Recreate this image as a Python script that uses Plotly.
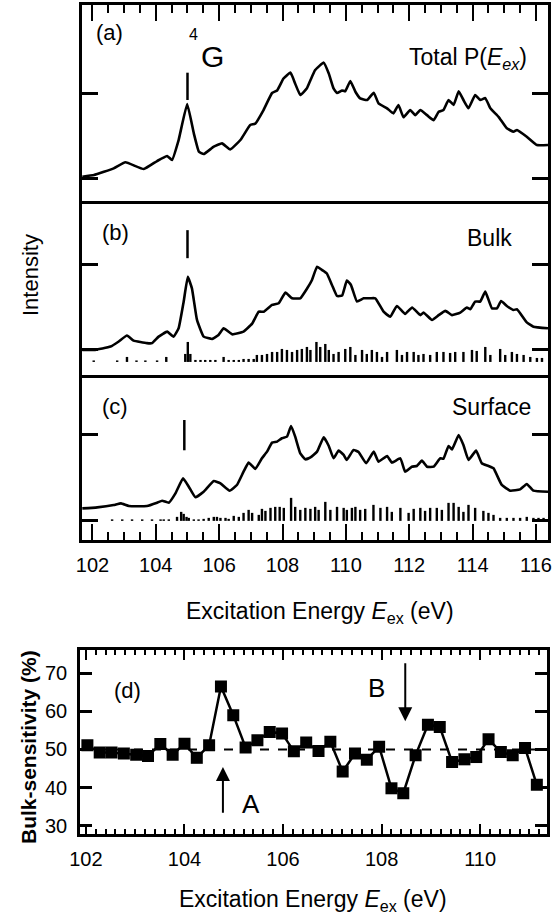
import plotly.graph_objects as go

W, H = 553, 921

# ---------------- data ----------------
# (a) Total P(Eex)
A_E = [101.68, 102.05, 102.67, 103.04, 103.62, 104.04, 104.36, 104.51, 104.72, 104.99, 105.2, 105.36, 105.51,
       105.83, 106.09, 106.35, 106.67, 106.98, 107.14, 107.4, 107.67, 107.83, 108.03, 108.25, 108.4, 108.56,
       108.77, 108.88, 109.03, 109.3, 109.46, 109.61, 109.72, 109.88, 109.98, 110.14, 110.3, 110.45, 110.67,
       110.88, 111.03, 111.3, 111.5, 111.66, 111.82, 112.03, 112.19, 112.35, 112.56, 112.77, 112.93, 113.08,
       113.24, 113.4, 113.56, 113.71, 113.87, 114.08, 114.24, 114.4, 114.56, 114.82, 115.08, 115.29, 115.4,
       115.71, 116.03, 116.38]
A_I = [0.016, 0.035, 0.114, 0.185, 0.106, 0.2, 0.259, 0.212, 0.447, 0.871, 0.525, 0.31, 0.282, 0.369, 0.408,
       0.337, 0.447, 0.624, 0.64, 0.8, 1.0, 1.03, 1.17, 1.24, 1.11, 0.976, 1.055, 1.15, 1.27, 1.357, 1.23, 1.055,
       1.0, 1.03, 1.02, 1.14, 1.015, 0.937, 0.918, 1.004, 0.878, 0.82, 0.76, 0.859, 0.714, 0.8, 0.74, 0.8, 0.74,
       0.68, 0.78, 0.8, 0.918, 0.86, 1.02, 0.918, 0.82, 0.976, 0.918, 0.94, 0.82, 0.72, 0.585, 0.545, 0.565,
       0.486, 0.388, 0.388]

# (b) Bulk
B_E = [101.68, 102.05, 102.57, 102.83, 103.09, 103.3, 103.72, 103.88, 104.09, 104.36, 104.56, 104.72, 104.88,
       105.01, 105.14, 105.3, 105.51, 105.78, 105.98, 106.14, 106.41, 106.77, 107.04, 107.25, 107.41, 107.67,
       107.88, 108.09, 108.3, 108.56, 108.77, 108.93, 109.09, 109.25, 109.4, 109.56, 109.72, 109.88, 110.03,
       110.16, 110.35, 110.56, 110.77, 110.93, 111.19, 111.4, 111.61, 111.87, 112.09, 112.35, 112.45, 112.72,
       112.93, 113.14, 113.35, 113.61, 113.82, 113.93, 114.08, 114.24, 114.4, 114.61, 114.77, 114.9, 115.08,
       115.29, 115.4, 115.71, 115.92, 116.38]
B_I = [0.0, 0.0, 0.04, 0.1, 0.17, 0.11, 0.08, 0.08, 0.157, 0.216, 0.157, 0.255, 0.57, 0.86, 0.725, 0.353, 0.157,
       0.13, 0.176, 0.255, 0.184, 0.216, 0.31, 0.45, 0.45, 0.53, 0.55, 0.675, 0.608, 0.608, 0.72, 0.824, 0.98,
       0.94, 0.9, 0.765, 0.635, 0.64, 0.816, 0.765, 0.57, 0.608, 0.608, 0.608, 0.45, 0.39, 0.518, 0.424, 0.5,
       0.41, 0.44, 0.353, 0.41, 0.46, 0.41, 0.44, 0.5, 0.48, 0.57, 0.57, 0.686, 0.49, 0.49, 0.576, 0.518, 0.47,
       0.48, 0.325, 0.274, 0.255]

# (c) Surface
C_E = [101.68, 102.15, 102.67, 102.9, 103.15, 103.72, 104.04, 104.2, 104.41, 104.62, 104.86, 105.04, 105.25,
       105.51, 105.83, 106.04, 106.33, 106.56, 106.77, 106.93, 107.14, 107.35, 107.51, 107.67, 107.83, 107.98,
       108.14, 108.27, 108.4, 108.56, 108.72, 108.88, 109.09, 109.3, 109.46, 109.61, 109.77, 109.93, 110.03,
       110.24, 110.4, 110.64, 110.88, 111.03, 111.3, 111.45, 111.72, 111.87, 112.08, 112.24, 112.4, 112.56,
       112.77, 112.98, 113.08, 113.24, 113.35, 113.56, 113.71, 113.87, 114.11, 114.29, 114.5, 114.66, 114.92,
       115.19, 115.5, 115.71, 115.92, 116.38]
C_I = [0.137, 0.149, 0.176, 0.196, 0.165, 0.165, 0.204, 0.227, 0.204, 0.314, 0.49, 0.392, 0.267, 0.333, 0.459,
       0.431, 0.345, 0.412, 0.569, 0.675, 0.6, 0.726, 0.804, 0.91, 0.922, 0.961, 0.98, 1.106, 0.98, 0.784, 0.714,
       0.737, 0.804, 0.973, 0.871, 0.726, 0.816, 0.765, 0.706, 0.824, 0.8, 0.667, 0.804, 0.686, 0.753, 0.675,
       0.725, 0.569, 0.627, 0.635, 0.698, 0.627, 0.627, 0.726, 0.72, 0.871, 0.83, 1.0, 0.882, 0.706, 0.816,
       0.667, 0.635, 0.608, 0.412, 0.345, 0.36, 0.424, 0.345, 0.333]

# stick spectra (relative intensities)
SB_E = [102.04, 102.78, 103.09, 103.39, 103.67, 104.04, 104.33, 104.93, 105.01, 105.09, 105.25, 105.41, 105.56,
        105.72, 105.88, 106.14, 106.3, 106.46, 106.62, 106.77, 106.93, 107.09, 107.19, 107.35, 107.51, 107.67,
        107.83, 107.98, 108.14, 108.3, 108.46, 108.61, 108.77, 108.88, 109.07, 109.19, 109.35, 109.46, 109.61,
        109.77, 109.98, 110.14, 110.3, 110.51, 110.66, 110.82, 110.98, 111.14, 111.3, 111.61, 111.77, 111.93,
        112.14, 112.29, 112.45, 112.66, 112.87, 113.08, 113.29, 113.45, 113.71, 113.98, 114.13, 114.4, 114.56,
        114.87, 115.03, 115.24, 115.4, 115.61, 115.82, 116.03, 116.19]
SB_H = [1.5, 1.5, 5, 1.5, 1.5, 1.5, 5, 8, 20, 8, 2, 2, 2, 2, 2, 5, 2, 2, 2, 3, 3, 3, 7, 7, 8, 10, 10, 13, 12, 10,
        12, 13, 15, 12, 20, 15, 18, 12, 8, 10, 13, 15, 7, 12, 8, 12, 10, 5, 10, 12, 7, 10, 10, 7, 8, 7, 10, 10, 9,
        10, 10, 12, 11, 15, 7, 13, 7, 10, 8, 7, 5, 4, 4]
SC_E = [102.62, 102.94, 103.25, 103.57, 103.88, 104.15, 104.25, 104.41, 104.67, 104.8, 104.88, 104.97, 105.04,
        105.2, 105.35, 105.51, 105.67, 105.83, 105.93, 106.04, 106.2, 106.3, 106.46, 106.62, 106.77, 106.93,
        107.04, 107.25, 107.35, 107.46, 107.62, 107.77, 107.91, 108.04, 108.27, 108.4, 108.56, 108.72, 108.88,
        109.03, 109.14, 109.35, 109.51, 109.72, 109.93, 110.03, 110.19, 110.3, 110.45, 110.61, 110.87, 111.09,
        111.3, 111.45, 111.72, 111.98, 112.14, 112.35, 112.5, 112.66, 112.87, 113.03, 113.24, 113.4, 113.56,
        113.71, 113.87, 114.08, 114.34, 114.5, 114.66, 114.87, 115.08, 115.29, 115.5, 115.71, 115.92, 116.08,
        116.24]
SC_H = [1.5, 1.5, 1.5, 1.5, 1.5, 1.5, 1.5, 1.5, 4, 9, 7, 4, 3, 1.5, 1.5, 2, 3, 4, 4, 3, 3, 2, 5, 4, 8, 11, 8, 6,
        12, 10, 13, 14, 14, 13, 23, 14, 11, 13, 12, 14, 11, 19, 11, 14, 13, 11, 13, 14, 11, 12, 16, 13, 14, 9, 13,
        8, 12, 13, 10, 13, 13, 11, 18, 18, 14, 9, 16, 13, 10, 8, 6, 3, 3, 3, 3, 4, 3, 3, 3]

# (d) bulk sensitivity
D_E = [102.03, 102.28, 102.52, 102.77, 103.02, 103.26, 103.51, 103.76, 104.00, 104.25, 104.50, 104.74, 104.99,
       105.24, 105.48, 105.73, 105.98, 106.22, 106.47, 106.72, 106.96, 107.21, 107.46, 107.70, 107.95, 108.20,
       108.44, 108.69, 108.94, 109.18, 109.43, 109.68, 109.92, 110.17, 110.42, 110.66, 110.91, 111.15]
D_S = [51.1, 49.2, 49.2, 48.9, 48.6, 48.3, 51.4, 48.6, 51.5, 47.8, 51.1, 66.5, 59.0, 50.5, 52.4, 54.6, 54.2, 49.5,
       51.8, 49.6, 52.0, 44.2, 48.9, 47.3, 50.7, 39.8, 38.5, 48.5, 56.5, 55.9, 46.7, 47.4, 48.0, 52.7, 49.3, 48.5,
       50.4, 40.7]

STICK_SCALE = 1 / 85.0
FONT = "Liberation Sans, Arial, sans-serif"


def px(x):
    return x / W


def py(y):
    return 1 - y / H


def sticks(E, Hs, base):
    xs, ys = [], []
    for e, h in zip(E, Hs):
        xs += [e, e, None]
        ys += [base, base + h * STICK_SCALE, None]
    return xs, ys


fig = go.Figure()
line = dict(color="black", width=2.6, shape="spline", smoothing=0.35)
fig.add_trace(go.Scatter(x=A_E, y=A_I, mode="lines", line=line, xaxis="x3", yaxis="y"))
fig.add_trace(go.Scatter(x=B_E, y=B_I, mode="lines", line=line, xaxis="x2", yaxis="y2"))
fig.add_trace(go.Scatter(x=C_E, y=C_I, mode="lines", line=line, xaxis="x", yaxis="y3"))
sx, sy = sticks(SB_E, SB_H, -0.141)
fig.add_trace(go.Scatter(x=sx, y=sy, mode="lines", line=dict(color="black", width=2.4), xaxis="x2", yaxis="y2"))
sx, sy = sticks(SC_E, SC_H, -0.01)
fig.add_trace(go.Scatter(x=sx, y=sy, mode="lines", line=dict(color="black", width=2.4), xaxis="x", yaxis="y3"))

fig.add_trace(go.Scatter(x=D_E, y=D_S, mode="lines+markers", line=dict(color="black", width=2.5),
                         marker=dict(symbol="square", size=12, color="black"), xaxis="x4", yaxis="y4"))

XR = [101.67, 116.38]
XDOM = [px(82), px(548)]
axline = dict(showline=True, linecolor="black", linewidth=2.6, showgrid=False, zeroline=False, automargin=False)

fig.update_layout(
    width=W, height=H, margin=dict(l=0, r=0, t=0, b=0, autoexpand=False),
    paper_bgcolor="white", plot_bgcolor="white", showlegend=False,
    font=dict(family=FONT, color="black"),
    xaxis=dict(domain=XDOM, range=XR, anchor="y3", mirror=True, ticks="inside", ticklen=16, tickwidth=2,
               tickcolor="black", dtick=2, tick0=102, tickfont=dict(size=20), ticklabelstandoff=5,
               minor=dict(dtick=0.5, ticks="inside", ticklen=8, tickwidth=2, tickcolor="black"), **axline),
    xaxis2=dict(domain=XDOM, range=XR, anchor="y2", showline=False, ticks="", showticklabels=False,
                showgrid=False, zeroline=False, automargin=False),
    xaxis3=dict(domain=XDOM, range=XR, anchor="y", side="top", mirror=True, ticks="inside", ticklen=16,
                tickwidth=2, tickcolor="black", dtick=2, tick0=102, showticklabels=False,
                minor=dict(dtick=0.5, ticks="inside", ticklen=8, tickwidth=2, tickcolor="black"), **axline),
    yaxis=dict(domain=[py(201), py(5)], range=[-0.27, 2.035], anchor="x3", mirror="ticks", ticks="inside",
               ticklen=16, tickwidth=2.5, tickcolor="black", tickvals=[0, 1], showticklabels=False, **axline),
    yaxis2=dict(domain=[py(378), py(201)], range=[-0.33, 1.753], anchor="x2", mirror="ticks", ticks="inside",
                ticklen=16, tickwidth=2.5, tickcolor="black", tickvals=[0, 1], showticklabels=False, **axline),
    yaxis3=dict(domain=[py(540), py(378)], range=[-0.235, 1.67], anchor="x", mirror="ticks", ticks="inside",
                ticklen=16, tickwidth=2.5, tickcolor="black", tickvals=[0, 1], showticklabels=False, **axline),
    xaxis4=dict(domain=[px(80), px(546.7)], range=[101.88, 111.35], anchor="y4", mirror="ticks", ticks="inside",
                ticklen=10, tickwidth=2, tickcolor="black", dtick=2, tick0=102, tickfont=dict(size=20),
                ticklabelstandoff=5,
                minor=dict(dtick=0.2, ticks="inside", ticklen=5, tickwidth=2, tickcolor="black"), **axline),
    yaxis4=dict(domain=[py(834), py(650)], range=[27.8, 76.1], anchor="x4", mirror="ticks", ticks="inside",
                ticklen=12, tickwidth=2.5, tickcolor="black", tickvals=[30, 40, 50, 60, 70],
                tickfont=dict(size=20), ticklabelstandoff=6, **axline),
)

# guide bars above the 4G peaks
mk = dict(type="line", line=dict(color="black", width=2.5))
fig.add_shape(x0=105.0, x1=105.0, y0=0.918, y1=1.239, xref="x3", yref="y", **mk)
fig.add_shape(x0=105.0, x1=105.0, y0=1.08, y1=1.41, xref="x2", yref="y2", **mk)
fig.add_shape(x0=104.9, x1=104.9, y0=0.82, y1=1.176, xref="x", yref="y3", **mk)
# 50 % reference line
fig.add_shape(type="line", x0=0, x1=1, y0=50, y1=50, xref="x4 domain", yref="y4",
              line=dict(color="black", width=2, dash="dash"), layer="below")


def txt(t, x, y, size, xanchor="center", yanchor="middle", angle=0, bold=False):
    fig.add_annotation(text=(f"<b>{t}</b>" if bold else t), x=px(x), y=py(y), xref="paper", yref="paper",
                       showarrow=False, xanchor=xanchor, yanchor=yanchor, textangle=angle,
                       font=dict(size=size, family=FONT, color="black"))


txt("(a)", 109, 32, 22)
txt("4", 194, 34, 16)
txt("G", 212, 56, 30)
txt("Total P(<i>E</i><sub><i>ex</i></sub>)", 529, 58, 23, xanchor="right")
txt("(b)", 115, 232, 22)
txt("Bulk", 514, 238, 23, xanchor="right")
txt("(c)", 115, 406, 22)
txt("Surface", 533, 407, 23, xanchor="right")
txt("Intensity", 30, 275, 22, angle=-90)
txt("Excitation Energy <i>E</i><sub>ex</sub> (eV)", 320, 612, 23)
txt("(d)", 127, 690, 22)
txt("Bulk-sensitivity (%)", 28, 747, 21, angle=-90, bold=True)
txt("Excitation Energy <i>E</i><sub>ex</sub> (eV)", 313, 900, 23)

fig.add_annotation(text="B", x=107.89, y=66.2, xref="x4", yref="y4", showarrow=False,
                   font=dict(size=26, family=FONT, color="black"))
fig.add_annotation(text="A", x=105.35, y=35.6, xref="x4", yref="y4", showarrow=False,
                   font=dict(size=26, family=FONT, color="black"))
fig.add_annotation(text="", x=104.78, y=45.4, ax=104.78, ay=33.0, xref="x4", yref="y4", axref="x4", ayref="y4",
                   showarrow=True, arrowhead=2, arrowsize=1.4, arrowwidth=2, arrowcolor="black")
fig.add_annotation(text="", x=108.48, y=57.4, ax=108.48, ay=73.0, xref="x4", yref="y4", axref="x4", ayref="y4",
                   showarrow=True, arrowhead=2, arrowsize=1.4, arrowwidth=2, arrowcolor="black")

fig.write_html("out.html", config={"displayModeBar": False},
               post_script="document.body.style.margin='0';document.body.style.overflow='hidden';")
